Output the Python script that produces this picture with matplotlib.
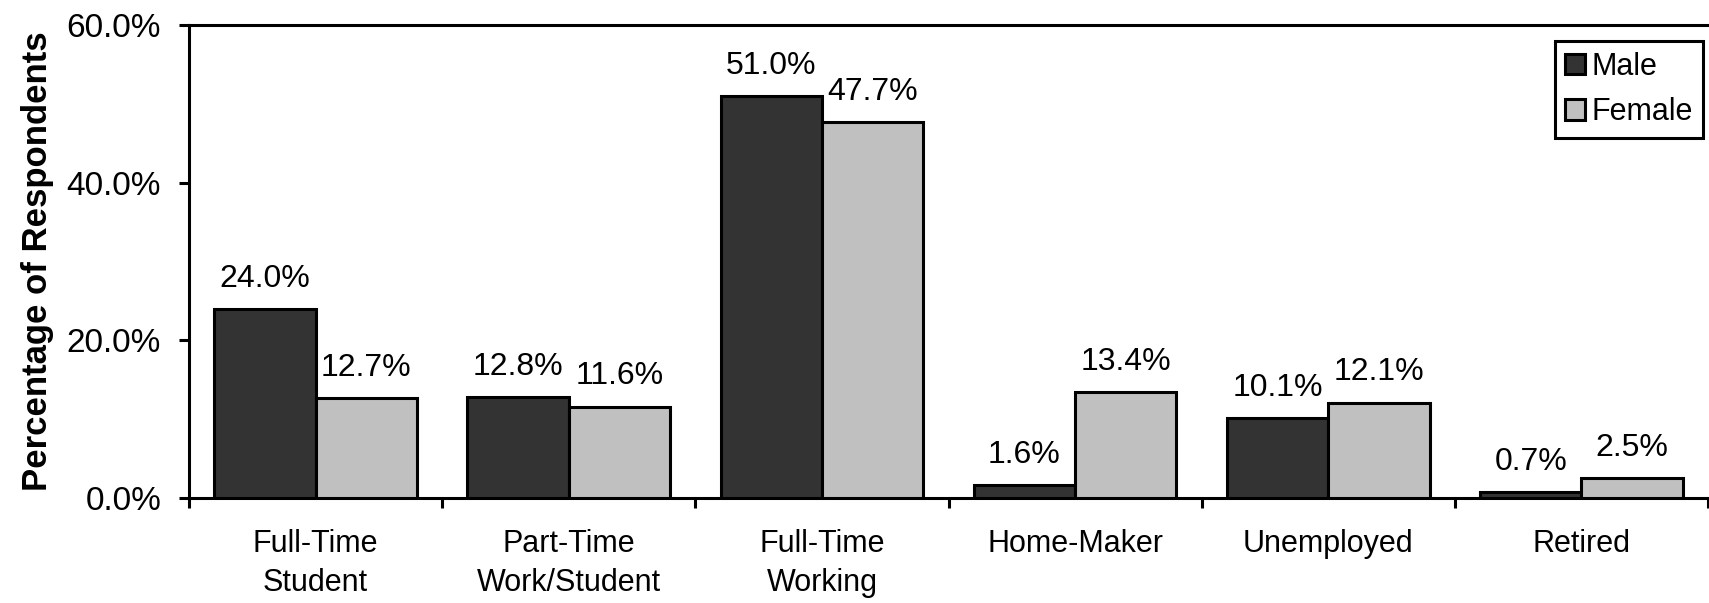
import numpy as np
import matplotlib
matplotlib.use("Agg")
import matplotlib.pyplot as plt
from matplotlib.ticker import FuncFormatter, FixedLocator

categories = ["Full-Time\nStudent", "Part-Time\nWork/Student", "Full-Time\nWorking",
              "Home-Maker", "Unemployed", "Retired"]
male = [24.0, 12.8, 51.0, 1.6, 10.1, 0.7]
female = [12.7, 11.6, 47.7, 13.4, 12.1, 2.5]
series_names = ["Male", "Female"]
y_ticks = [0, 20, 40, 60]

plt.rcParams["font.family"] = ["Liberation Sans", "DejaVu Sans"]

DPI = 100
fig = plt.figure(figsize=(1709 / DPI, 603 / DPI), dpi=DPI)
ax = fig.add_axes([189 / 1709, 105 / 603, 1519 / 1709, 473 / 603])

LW = 2.2
n = len(categories)
centers = np.arange(n) + 0.5
w = 0.4

bars_m = ax.bar(centers - w / 2, male, width=w, color="#333333",
                edgecolor="black", linewidth=LW, label=series_names[0], zorder=3)
bars_f = ax.bar(centers + w / 2, female, width=w, color="#C0C0C0",
                edgecolor="black", linewidth=LW, label=series_names[1], zorder=3)

for bars, vals in ((bars_m, male), (bars_f, female)):
    for b, v in zip(bars, vals):
        ax.annotate(f"{v:.1f}%", xy=(b.get_x() + b.get_width() / 2, v),
                    xytext=(0, 16), textcoords="offset points",
                    ha="center", va="baseline", fontsize=23, color="black")

ax.set_xlim(0, n)
ax.set_ylim(0, 60)

# y axis
ax.yaxis.set_major_locator(FixedLocator(y_ticks))
ax.yaxis.set_major_formatter(FuncFormatter(lambda v, p: f"{v:.1f}%"))
ax.tick_params(axis="y", direction="out", length=7, width=LW, pad=13,
               labelsize=24, colors="black")

# x axis: tick marks at category boundaries, labels centred between them
ax.xaxis.set_major_locator(FixedLocator(np.arange(n + 1)))
ax.xaxis.set_major_formatter(FuncFormatter(lambda v, p: ""))
ax.xaxis.set_minor_locator(FixedLocator(centers))
ax.set_xticklabels(categories, minor=True)
ax.tick_params(axis="x", which="major", direction="out", length=7, width=LW)
ax.tick_params(axis="x", which="minor", length=0, pad=22, labelsize=22)
for t in ax.get_xticklabels(minor=True):
    t.set_linespacing(1.4)

for side in ("left", "bottom", "top"):
    ax.spines[side].set_linewidth(LW)
    ax.spines[side].set_color("black")
ax.spines["right"].set_visible(False)

ax.set_ylabel("Percentage of Respondents", fontsize=25, fontweight="bold")
ax.yaxis.set_label_coords(-0.089, 0.5)

leg = ax.legend(loc="upper right", bbox_to_anchor=(0.997, 0.966), fontsize=22,
                frameon=True, fancybox=False, edgecolor="black",
                handlelength=0.65, handleheight=0.65, handletextpad=0.2,
                borderpad=0.35, labelspacing=0.5, borderaxespad=0)
leg.get_frame().set_linewidth(LW)
leg.get_frame().set_alpha(1)

fig.savefig("out.png", dpi=DPI, facecolor="white")
